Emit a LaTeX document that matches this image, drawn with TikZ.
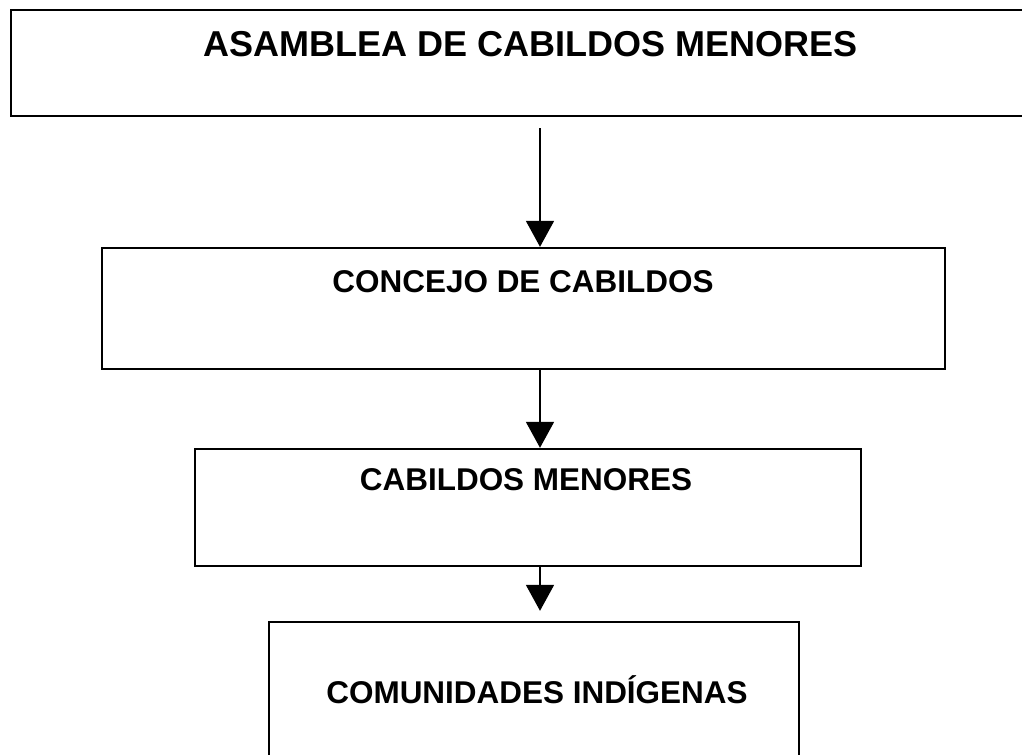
\documentclass[tikz,border=0pt]{standalone}
\usepackage{fontspec}
\setmainfont{Liberation Sans}
\usetikzlibrary{arrows.meta}
\tikzset{
  box/.style={draw=black, line width=1.8pt, fill=none, inner sep=0pt},
  lbl/.style={font=\bfseries\fontsize{23.6pt}{26pt}\selectfont, anchor=base, inner sep=0pt},
  toplbl/.style={font=\bfseries\fontsize{27pt}{30pt}\selectfont, anchor=base, inner sep=0pt},
  conn/.style={line width=1.4pt, -{Triangle[length=19.5pt,width=21pt]}}
}
\begin{document}
\begin{tikzpicture}[x=0.75pt,y=-0.75pt]
\clip (0,0) rectangle (1022,754);
\fill[white] (0,0) rectangle (1022,754);
% boxes
\node[box, minimum width=1029*0.75pt, minimum height=106*0.75pt] (b1) at (525.5,63) {};
\node[box, minimum width=843*0.75pt, minimum height=121*0.75pt] (b2) at (523.5,308.5) {};
\node[box, minimum width=666*0.75pt, minimum height=117*0.75pt] (b3) at (528,507.5) {};
\node[box, minimum width=530*0.75pt, minimum height=158*0.75pt] (b4) at (534,701) {};
% labels
\node[toplbl] (t1) at (531,56) {ASAMBLEA DE CABILDOS MENORES};
\node[lbl] (t2) at (523,292) {CONCEJO DE CABILDOS};
\node[lbl] (t3) at (526,490) {CABILDOS MENORES};
\node[lbl] (t4) at (537,703) {COMUNIDADES INDÍGENAS};
% connectors
\coordinate (ax) at (540,0);
\coordinate (s1) at (540,128);
\draw[conn] (s1) -- (b2.north -| ax);
\draw[conn] (b2.south -| ax) -- (b3.north -| ax);
\draw[conn, shorten >=10*0.75pt] (b3.south -| ax) -- (b4.north -| ax);
\end{tikzpicture}
\end{document}
